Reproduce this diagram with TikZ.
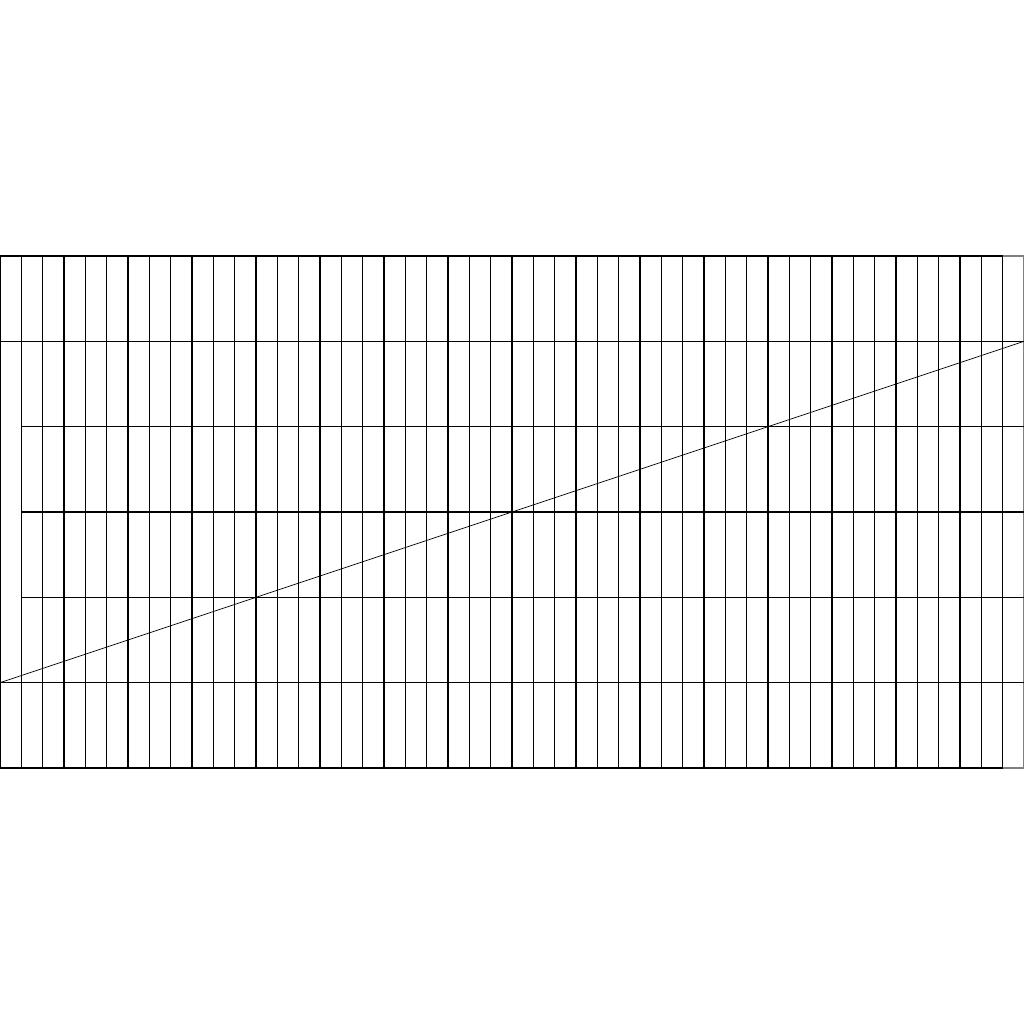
\documentclass[tikz,border=0pt]{standalone}
\usepackage{amssymb,amsmath}
\usepackage{tikz}
\usepackage{color}

\begin{document}
\begin{tikzpicture}[scale=0.5, line width=0.7pt]
            \def\n{48}
            \def\h{24}
            \useasboundingbox (0,-12) rectangle (\n,\h+12);

            \foreach \i in {0,...,47} {
                    \draw (\i,0) -- (\i,\h);
                }
            \draw[black!50] (\n,0) -- (\n,\h);

            \draw (0,0) -- (\n-1,0);
            \draw (0,\h) -- (\n-1,\h);
            \draw[black!50] (\n-1,0) -- (\n,0);
            \draw[black!50] (\n-1,\h) -- (\n,\h);

            \foreach \j in {8,12,16} {
                    \draw (1,\j) -- (\n,\j);
                }
            \draw (0,4) -- (\n,4);
            \draw (0,20) -- (\n,20);

            \draw[line width=0.5pt] (0,4) -- (\n,20);

        \end{tikzpicture}
\end{document}
